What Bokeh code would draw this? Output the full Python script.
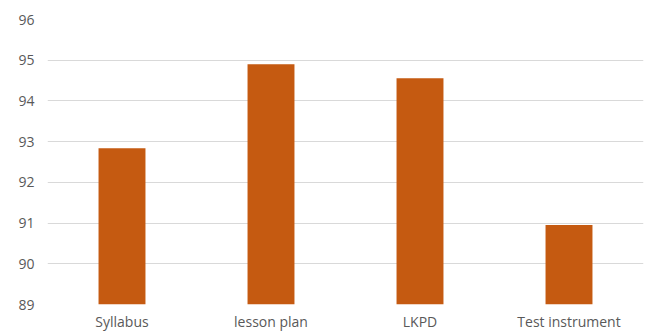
from bokeh.plotting import figure
from bokeh.models import Range1d, FixedTicker
from bokeh.embed import file_html
from bokeh.resources import INLINE

categories = ["Syllabus", "lesson plan", "LKPD", "Test instrument"]
values = [92.84, 94.90, 94.56, 90.95]
y_ticks = [89, 90, 91, 92, 93, 94, 95, 96]

p = figure(x_range=categories, y_range=Range1d(89, 96), width=645, height=333,
           output_backend="svg", toolbar_location=None,
           min_border_left=47, min_border_right=2, min_border_top=19, min_border_bottom=0)

p.vbar(x=categories, top=values, bottom=89, width=0.315, fill_color="#C55A11", line_color=None)

p.outline_line_color = None
p.xgrid.grid_line_color = None
p.ygrid.grid_line_color = "#D9D9D9"
p.ygrid.grid_line_width = 1
p.yaxis.ticker = FixedTicker(ticks=y_ticks)

for ax in (p.xaxis, p.yaxis):
    ax.axis_line_color = None
    ax.major_tick_line_color = None
    ax.minor_tick_line_color = None
    ax.major_tick_out = 0
    ax.major_tick_in = 0
    ax.major_label_text_font = "Open Sans"
    ax.major_label_text_font_size = "14px"
    ax.major_label_text_color = "#595959"

p.yaxis.major_label_standoff = 13
p.xaxis.major_label_standoff = 7

open("out.html", "w").write(file_html(p, INLINE))
